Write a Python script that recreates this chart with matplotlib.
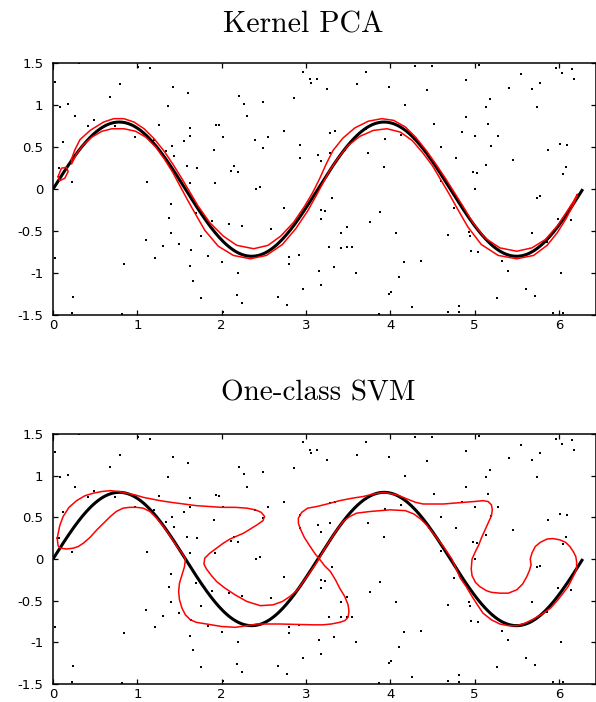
import numpy as np
import matplotlib
matplotlib.use("Agg")
import matplotlib.pyplot as plt

plt.rcParams['axes.unicode_minus'] = False
plt.rcParams['font.family'] = ['DejaVu Sans']

# noisy sample points (shared by both panels)
pts_x = [0.00, 0.31, 0.02, 1.01, 1.15, 0.80, 1.42, 1.60, 0.68, 0.08, 0.18, 1.36,
         0.26, 0.41, 0.49, 0.73, 1.26, 1.63, 0.97, 0.12, 1.20, 1.55, 1.41, 1.63,
         1.44, 1.34, 1.59, 1.71, 0.07, 0.23, 1.11, 1.62, 1.40, 1.37, 1.40, 1.10,
         1.31, 1.50, 1.64, 1.21, 0.02, 0.84, 1.62, 1.66, 0.24, 0.22, 0.82, 2.96,
         3.05, 3.06, 3.13, 3.25, 3.71, 3.61, 3.98, 4.18, 2.21, 2.26, 2.49, 2.86,
         2.30, 1.93, 1.97, 2.02, 2.39, 2.55, 2.74, 2.49, 1.91, 2.93, 2.93, 3.14,
         3.18, 3.29, 3.35, 3.29, 3.46, 3.73, 3.94, 3.93, 4.13, 2.15, 2.11, 2.19,
         1.92, 2.41, 2.46, 3.31, 2.74, 3.18, 3.22, 3.18, 3.88, 3.76, 3.49, 3.42,
         4.07, 2.09, 2.24, 2.58, 1.70, 1.88, 1.76, 1.84, 2.00, 2.20, 2.80, 2.80,
         2.92, 3.27, 3.41, 3.49, 3.55, 3.15, 3.33, 3.59, 2.97, 3.18, 1.76, 2.18,
         2.24, 2.67, 2.77, 2.02, 3.87, 3.99, 4.01, 4.10, 4.16, 4.29, 4.50, 5.05,
         5.96, 6.16, 6.04, 5.55, 4.90, 6.18, 5.78, 4.43, 5.41, 5.68, 5.18, 5.14,
         5.74, 4.90, 4.52, 5.16, 4.85, 5.00, 5.28, 4.60, 5.20, 6.01, 6.10, 5.87,
         4.78, 5.46, 5.14, 6.08, 6.05, 4.98, 5.03, 4.60, 5.01, 5.74, 5.77, 4.76,
         4.68, 4.93, 4.94, 4.96, 5.04, 5.68, 5.86, 5.99, 6.14, 5.33, 5.40, 4.37,
         6.03, 5.61, 5.72, 5.27, 4.26, 4.81, 4.69, 4.81, 5.93, 6.05, 3.71]
pts_y = [1.43, 1.50, 1.28, 1.46, 1.44, 1.25, 1.22, 1.15, 1.10, 0.98, 1.01, 0.99,
         0.87, 0.75, 0.82, 0.75, 0.76, 0.73, 0.62, 0.56, 0.59, 0.57, 0.51, 0.63,
         0.39, 0.45, 0.27, 0.25, 0.25, 0.09, 0.09, 0.07, -0.18, -0.34, -0.52, -0.61,
         -0.68, -0.65, -0.73, -0.82, -0.82, -0.89, -0.92, -1.09, -1.28, -1.48, -1.49, 1.40,
         1.31, 1.27, 1.31, 1.19, 1.40, 1.25, 1.22, 1.00, 1.11, 1.02, 1.04, 1.09,
         0.87, 0.77, 0.76, 0.62, 0.59, 0.62, 0.69, 0.49, 0.47, 0.53, 0.37, 0.41,
         0.33, 0.67, 0.69, 0.43, 0.47, 0.43, 0.60, 0.26, 0.65, 0.27, 0.22, 0.21,
         0.07, 0.00, 0.02, -0.10, -0.22, -0.25, -0.26, -0.35, -0.27, -0.39, -0.45, -0.52,
         -0.52, -0.41, -0.44, -0.47, -0.29, -0.38, -0.56, -0.80, -0.87, -1.00, -0.81, -0.89,
         -0.79, -0.69, -0.70, -0.69, -0.69, -0.97, -0.93, -1.00, -1.19, -1.14, -1.30, -1.26,
         -1.36, -1.28, -1.38, -1.46, -1.49, -1.25, -1.22, -1.05, -0.87, 1.47, 1.47, 1.48,
         1.44, 1.43, 1.38, 1.37, 1.30, 1.31, 1.27, 1.18, 1.21, 1.19, 1.07, 0.98,
         0.98, 0.86, 0.78, 0.78, 0.68, 0.63, 0.63, 0.50, 0.52, 0.54, 0.53, 0.47,
         0.37, 0.35, 0.29, 0.26, 0.18, 0.21, 0.19, 0.10, 0.00, -0.10, -0.08, -0.23,
         -0.55, -0.51, -0.56, -0.74, -0.75, -0.52, -0.63, -0.35, -0.37, -0.86, -0.97, -0.86,
         -1.00, -1.19, -1.27, -1.30, -1.41, -1.39, -1.46, -1.47, -1.48, -1.48, 0.72]

# underlying curve y = A sin(k x) on [0, 2*pi]
curve_amp = 0.8
curve_freq = 2.0

# kernel PCA contour: side above the curve and side below it
pca_above_x = [0.22, 0.26, 0.32, 0.44, 0.60, 0.72, 0.84, 0.96, 1.08, 1.20, 1.32, 1.42,
               1.52, 1.62, 1.72, 1.86, 2.02, 2.18, 2.38, 2.55, 2.70, 2.85, 2.98, 3.08,
               3.16, 3.24, 3.32, 3.44, 3.58, 3.74, 3.90, 4.04, 4.18, 4.30, 4.42, 4.54,
               4.66, 4.76, 4.86, 4.98, 5.12, 5.30, 5.50, 5.68, 5.84, 5.98, 6.08, 6.17,
               6.22]
pca_above_y = [0.36, 0.47, 0.59, 0.70, 0.80, 0.84, 0.84, 0.80, 0.72, 0.60, 0.45, 0.30,
               0.14, -0.03, -0.20, -0.40, -0.56, -0.67, -0.71, -0.67, -0.56, -0.40, -0.21, -0.04,
               0.12, 0.30, 0.46, 0.61, 0.73, 0.81, 0.84, 0.82, 0.74, 0.62, 0.47, 0.30,
               0.12, -0.04, -0.20, -0.40, -0.58, -0.70, -0.74, -0.70, -0.60, -0.44, -0.29, -0.15,
               -0.06]
pca_below_x = [0.22, 0.28, 0.36, 0.46, 0.58, 0.70, 0.84, 0.98, 1.10, 1.22, 1.32, 1.42,
               1.50, 1.58, 1.68, 1.80, 1.96, 2.14, 2.34, 2.53, 2.72, 2.88, 3.02, 3.12,
               3.20, 3.28, 3.38, 3.50, 3.64, 3.80, 3.96, 4.12, 4.26, 4.38, 4.50, 4.60,
               4.70, 4.80, 4.92, 5.08, 5.28, 5.50, 5.70, 5.86, 5.98, 6.08, 6.16, 6.21]
pca_below_y = [0.30, 0.42, 0.53, 0.62, 0.69, 0.72, 0.72, 0.69, 0.62, 0.50, 0.36, 0.20,
               0.05, -0.10, -0.28, -0.49, -0.68, -0.79, -0.83, -0.79, -0.66, -0.47, -0.26, -0.08,
               0.07, 0.22, 0.37, 0.52, 0.63, 0.70, 0.72, 0.68, 0.58, 0.44, 0.28, 0.11,
               -0.06, -0.24, -0.45, -0.66, -0.79, -0.83, -0.79, -0.67, -0.52, -0.36, -0.21, -0.09]
# small separate loop near the origin
pca_loop_x = [0.06, 0.10, 0.16, 0.18, 0.14, 0.08, 0.06]
pca_loop_y = [0.15, 0.25, 0.26, 0.21, 0.13, 0.10, 0.15]

# one-class SVM decision boundary (single closed contour)
svm_x = [0.05, 0.08, 0.12, 0.19, 0.28, 0.38, 0.48, 0.58, 0.68, 0.78, 0.87, 0.97,
         1.07, 1.17, 1.27, 1.40, 1.55, 1.70, 1.86, 2.00, 2.16, 2.30, 2.40, 2.47,
         2.51, 2.49, 2.42, 2.34, 2.26, 2.10, 2.02, 1.94, 1.86, 1.80, 1.79, 1.82,
         1.88, 1.94, 2.04, 2.16, 2.30, 2.46, 2.61, 2.72, 2.81, 2.90, 2.97, 3.04,
         3.11, 3.16, 3.22, 3.29, 3.36, 3.44, 3.52, 3.60, 3.76, 4.00, 4.18, 4.28,
         4.36, 4.43, 4.53, 4.63, 4.73, 4.83, 4.90, 4.97, 5.04, 5.10, 5.20, 5.30,
         5.40, 5.50, 5.60, 5.70, 5.80, 5.90, 5.98, 6.05, 6.11, 6.15, 6.19, 6.21,
         6.21, 6.20, 6.17, 6.13, 6.08, 6.01, 5.93, 5.86, 5.78, 5.72, 5.68, 5.66,
         5.67, 5.65, 5.62, 5.57, 5.50, 5.40, 5.30, 5.20, 5.14, 5.06, 5.01, 4.97,
         4.96, 4.97, 5.01, 5.05, 5.08, 5.12, 5.16, 5.20, 5.21, 5.20, 5.16, 5.10,
         5.00, 4.87, 4.75, 4.63, 4.50, 4.39, 4.30, 4.20, 4.08, 3.98, 3.92, 3.80,
         3.68, 3.55, 3.40, 3.25, 3.13, 3.02, 2.95, 2.91, 2.91, 2.93, 2.98, 3.05,
         3.11, 3.16, 3.22, 3.29, 3.35, 3.40, 3.46, 3.50, 3.51, 3.50, 3.46, 3.40,
         3.30, 3.20, 3.09, 2.90, 2.69, 2.55, 2.42, 2.30, 2.16, 2.00, 1.82, 1.70,
         1.63, 1.57, 1.53, 1.50, 1.49, 1.50, 1.53, 1.56, 1.57, 1.53, 1.47, 1.40,
         1.31, 1.23, 1.15, 1.07, 0.99, 0.91, 0.83, 0.75, 0.68, 0.60, 0.52, 0.44,
         0.36, 0.30, 0.24, 0.16, 0.09, 0.06, 0.05]
svm_y = [0.25, 0.40, 0.51, 0.62, 0.70, 0.76, 0.79, 0.81, 0.82, 0.81, 0.79, 0.77,
         0.74, 0.72, 0.70, 0.68, 0.66, 0.64, 0.63, 0.62, 0.62, 0.61, 0.59, 0.56,
         0.51, 0.46, 0.41, 0.36, 0.31, 0.24, 0.19, 0.13, 0.07, 0.01, -0.06, -0.12,
         -0.20, -0.27, -0.35, -0.43, -0.51, -0.56, -0.55, -0.51, -0.45, -0.37, -0.27, -0.17,
         -0.07, 0.01, 0.12, 0.23, 0.34, 0.45, 0.51, 0.55, 0.57, 0.59, 0.58, 0.54,
         0.48, 0.41, 0.28, 0.15, 0.00, -0.23, -0.33, -0.45, -0.56, -0.65, -0.73, -0.78,
         -0.80, -0.80, -0.77, -0.72, -0.66, -0.59, -0.50, -0.41, -0.33, -0.25, -0.17, -0.11,
         -0.03, 0.03, 0.09, 0.15, 0.20, 0.23, 0.245, 0.24, 0.20, 0.15, 0.07, 0.00,
         -0.07, -0.14, -0.21, -0.30, -0.37, -0.41, -0.41, -0.40, -0.38, -0.33, -0.28, -0.20,
         -0.12, 0.00, 0.09, 0.17, 0.25, 0.34, 0.43, 0.52, 0.59, 0.65, 0.69, 0.70,
         0.69, 0.68, 0.67, 0.66, 0.66, 0.66, 0.68, 0.72, 0.77, 0.79, 0.80, 0.78,
         0.75, 0.73, 0.70, 0.66, 0.63, 0.61, 0.56, 0.49, 0.43, 0.37, 0.26, 0.15,
         0.06, 0.00, -0.08, -0.15, -0.25, -0.35, -0.45, -0.55, -0.63, -0.70, -0.74, -0.76,
         -0.78, -0.79, -0.79, -0.785, -0.78, -0.78, -0.78, -0.80, -0.82, -0.81, -0.78, -0.76,
         -0.73, -0.67, -0.59, -0.49, -0.39, -0.29, -0.19, -0.09, 0.00, 0.07, 0.15, 0.26,
         0.39, 0.49, 0.57, 0.61, 0.62, 0.62, 0.61, 0.57, 0.51, 0.43, 0.35, 0.26,
         0.19, 0.15, 0.13, 0.12, 0.13, 0.16, 0.25]

x_ticks = [0, 1, 2, 3, 4, 5, 6]
y_ticks = [-1.5, -1, -0.5, 0, 0.5, 1, 1.5]
y_tick_labels = ['-1.5', '-1', '-0.5', '0', '0.5', '1', '1.5']
titles = ['Kernel PCA', 'One-class SVM']

W, H = 596, 702
fig = plt.figure(figsize=(W / 100, H / 100), dpi=100)


def add_axes_px(left, top, right, bottom):
    return fig.add_axes([left / W, 1 - bottom / H, (right - left) / W, (bottom - top) / H])


def style(ax):
    ax.set_xlim(0, 6.44)
    ax.set_ylim(-1.5, 1.5)
    ax.set_xticks(x_ticks)
    ax.set_xticklabels([str(t) for t in x_ticks])
    ax.set_yticks(y_ticks)
    ax.set_yticklabels(y_tick_labels)
    ax.tick_params(direction='in', top=True, right=True, length=3.6, width=0.9,
                   labelsize=9.5)
    ax.tick_params(axis='y', pad=7)
    ax.tick_params(axis='x', pad=3)
    for s in ax.spines.values():
        s.set_linewidth(1.1)


def draw_base(ax):
    ax.plot(pts_x, pts_y, linestyle='none', marker='s', markersize=1.8,
            color='black', markeredgewidth=0)
    xs = np.linspace(0, 2 * np.pi, 400)
    ax.plot(xs, curve_amp * np.sin(curve_freq * xs), color='black', lw=2.2,
            solid_capstyle='butt', zorder=3)


ax1 = add_axes_px(53, 63.3, 596, 315)
style(ax1)
draw_base(ax1)
band_x = pca_above_x + pca_below_x[::-1] + [pca_above_x[0]]
band_y = pca_above_y + pca_below_y[::-1] + [pca_above_y[0]]
ax1.plot(band_x, band_y, color='red', lw=1.1, zorder=4)
ax1.plot(pca_loop_x, pca_loop_y, color='red', lw=1.1, zorder=4)

ax2 = add_axes_px(53, 434, 596, 684)
style(ax2)
draw_base(ax2)
ax2.plot(svm_x, svm_y, color='red', lw=1.1, zorder=4)

fig.text(303 / W, 1 - 25 / H, titles[0], ha='center', va='center',
         fontfamily='cmr10', fontsize=21.5)
fig.text(318 / W, 1 - 393 / H, titles[1], ha='center', va='center',
         fontfamily='cmr10', fontsize=21)

fig.savefig('out.png', dpi=100)
